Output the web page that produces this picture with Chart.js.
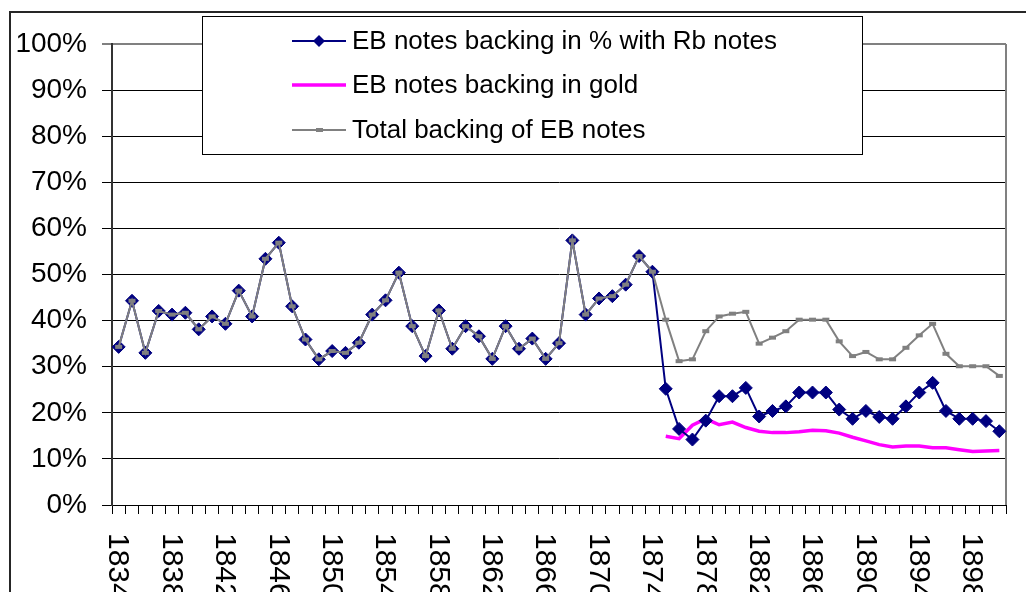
<!DOCTYPE html>
<html><head><meta charset="utf-8">
<script src="https://cdn.jsdelivr.net/npm/chart.js@4/dist/chart.umd.min.js"></script>
<style>html,body{margin:0;padding:0;background:#fff;overflow:hidden}</style>
</head><body>
<canvas id="c" width="1026" height="592"></canvas>
<script>
const years = ["1834","1835","1836","1837","1838","1839","1840","1841","1842","1843","1844","1845","1846","1847","1848","1849","1850","1851","1852","1853","1854","1855","1856","1857","1858","1859","1860","1861","1862","1863","1864","1865","1866","1867","1868","1869","1870","1871","1872","1873","1874","1875","1876","1877","1878","1879","1880","1881","1882","1883","1884","1885","1886","1887","1888","1889","1890","1891","1892","1893","1894","1895","1896","1897","1898","1899","1900"];
const xTickLabels = ["1834","1838","1842","1846","1850","1854","1858","1862","1866","1870","1874","1878","1882","1886","1890","1894","1898"];
const yTickValues = [0,10,20,30,40,50,60,70,80,90,100];

const rbBacking = [34.3,44.3,33.0,42.1,41.3,41.7,38.1,40.9,39.3,46.5,40.9,53.4,56.9,43.1,35.9,31.6,33.4,33.0,35.2,41.3,44.4,50.4,38.8,32.3,42.2,33.9,38.8,36.6,31.7,38.8,33.9,36.1,31.7,35.1,57.4,41.3,44.8,45.3,47.8,54.0,50.6,
  25.2,16.5,14.2,18.3,23.6,23.6,25.4,19.2,20.4,21.4,24.4,24.4,24.4,20.7,18.7,20.4,19.1,18.7,21.4,24.4,26.5,20.4,18.7,18.7,18.2,16.0];
const goldBacking = [null,null,null,null,null,null,null,null,null,null,null,null,null,null,null,null,null,null,null,null,null,null,null,null,null,null,null,null,null,null,null,null,null,null,null,null,null,null,null,null,null,
  14.9,14.4,17.3,18.7,17.4,18.0,16.8,16.0,15.7,15.7,15.9,16.2,16.1,15.6,14.7,13.9,13.1,12.6,12.8,12.8,12.4,12.4,12.0,11.6,11.7,11.8];
const totalBacking = [34.3,44.3,33.0,42.1,41.3,41.7,38.1,40.9,39.3,46.5,40.9,53.4,56.9,43.1,35.9,31.6,33.4,33.0,35.2,41.3,44.4,50.4,38.8,32.3,42.2,33.9,38.8,36.6,31.7,38.8,33.9,36.1,31.7,35.1,57.4,41.3,44.8,45.3,47.8,54.0,50.6,
  40.2,31.2,31.6,37.7,40.9,41.5,41.9,35.0,36.3,37.7,40.2,40.2,40.2,35.5,32.3,33.2,31.6,31.6,34.1,36.8,39.3,32.8,30.1,30.1,30.1,28.0];

const FONT = "'Liberation Sans', Arial, sans-serif";

const decorPlugin = {
  id: 'decor',
  beforeDraw(chart) {
    const ctx = chart.ctx;
    ctx.save();
    ctx.fillStyle = '#fff';
    ctx.fillRect(0, 0, chart.width, chart.height);
    ctx.strokeStyle = '#262626';
    ctx.lineWidth = 2;
    ctx.beginPath();
    ctx.moveTo(10, chart.height);
    ctx.lineTo(10, 12);
    ctx.lineTo(chart.width, 12);
    ctx.stroke();
    ctx.restore();
  },
  beforeDatasetsDraw(chart) {
    const ctx = chart.ctx, a = chart.chartArea;
    ctx.save();
    ctx.strokeStyle = '#808080';
    ctx.lineWidth = 2;
    ctx.beginPath();
    ctx.moveTo(a.right, a.top);
    ctx.lineTo(a.right, a.bottom);
    ctx.stroke();
    ctx.restore();
  },
  afterDraw(chart) {
    const ctx = chart.ctx, a = chart.chartArea;
    const xs = chart.scales.x;
    // x tick labels, rotated clockwise
    ctx.save();
    ctx.fillStyle = '#000';
    ctx.font = '30px ' + FONT;
    ctx.textAlign = 'left';
    ctx.textBaseline = 'middle';
    xTickLabels.forEach(lbl => {
      const idx = years.indexOf(lbl);
      const x = xs.getPixelForValue(idx);
      ctx.save();
      ctx.translate(x - 1, a.bottom + 28);
      ctx.rotate(Math.PI / 2);
      ctx.fillText(lbl, 0, 0);
      ctx.restore();
    });
    ctx.restore();

    // legend box
    const bx = 202, by = 16, bw = 660, bh = 138;
    ctx.save();
    ctx.fillStyle = '#fff';
    ctx.fillRect(bx, by, bw, bh);
    ctx.strokeStyle = '#000';
    ctx.lineWidth = 1;
    ctx.strokeRect(bx + 0.5, by + 0.5, bw, bh);
    const rows = [41, 85, 130];
    const ds = chart.data.datasets;
    ds.forEach((d, i) => {
      const y = rows[i];
      ctx.strokeStyle = d.borderColor;
      ctx.lineWidth = d.borderWidth;
      ctx.beginPath();
      ctx.moveTo(292, y);
      ctx.lineTo(346, y);
      ctx.stroke();
      if (d.pointStyle === 'rectRot') {
        ctx.fillStyle = d.pointBackgroundColor;
        ctx.beginPath();
        ctx.moveTo(319 - 6, y); ctx.lineTo(319, y - 6); ctx.lineTo(319 + 6, y); ctx.lineTo(319, y + 6);
        ctx.closePath();
        ctx.fill();
      } else if (d.pointStyle === 'line') {
        ctx.fillStyle = d.pointBorderColor;
        ctx.fillRect(316, y - 2, 7, 4);
      }
      ctx.fillStyle = '#000';
      ctx.font = '26px ' + FONT;
      ctx.textAlign = 'left';
      ctx.textBaseline = 'middle';
      ctx.fillText(d.label, 352, y + 1);
    });
    ctx.restore();
  }
};

new Chart(document.getElementById('c'), {
  type: 'line',
  data: {
    labels: years,
    datasets: [
      { label: 'EB notes backing in % with Rb notes', data: rbBacking,
        borderColor: '#000080', backgroundColor: '#000080', borderWidth: 2,
        pointStyle: 'rectRot', pointRadius: 6.5, pointBorderWidth: 1,
        pointBackgroundColor: '#000080', pointBorderColor: '#000080', tension: 0, order: 1 },
      { label: 'EB notes backing in gold', data: goldBacking,
        borderColor: '#FF00FF', backgroundColor: '#FF00FF', borderWidth: 3.5,
        pointRadius: 0, tension: 0, order: 2 },
      { label: 'Total backing of EB notes', data: totalBacking,
        borderColor: '#808080', backgroundColor: '#808080', borderWidth: 2,
        pointStyle: 'line', pointRadius: 3.5, pointBorderWidth: 4,
        pointBorderColor: '#808080', tension: 0, order: 0 }
    ]
  },
  options: {
    responsive: false,
    animation: false,
    devicePixelRatio: 1,
    events: [],
    layout: { padding: { top: 44, right: 20, left: 0, bottom: 0 } },
    plugins: { legend: { display: false }, tooltip: { enabled: false } },
    scales: {
      x: {
        type: 'category',
        offset: true,
        grid: { offset: true, drawOnChartArea: false, drawTicks: true, tickLength: 9, color: '#000', lineWidth: 1 },
        border: { display: true, color: '#000', width: 1 },
        ticks: { display: false, autoSkip: false },
        afterFit(s) { s.height = 87; }
      },
      y: {
        min: 0, max: 100,
        afterBuildTicks(s) { s.ticks = yTickValues.map(v => ({ value: v })); },
        ticks: { stepSize: 10, callback: v => v + '%', font: { family: FONT, size: 28 }, color: '#000', padding: 15 },
        grid: {
          color: c => (c.tick && c.tick.value === 100) ? '#808080' : '#000',
          lineWidth: c => (c.tick && c.tick.value === 100) ? 2 : 1,
          tickLength: 10
        },
        border: { display: true, color: '#333', width: 2 },
        afterFit(s) { s.width = 112; }
      }
    }
  },
  plugins: [decorPlugin]
});
</script>
</body></html>
